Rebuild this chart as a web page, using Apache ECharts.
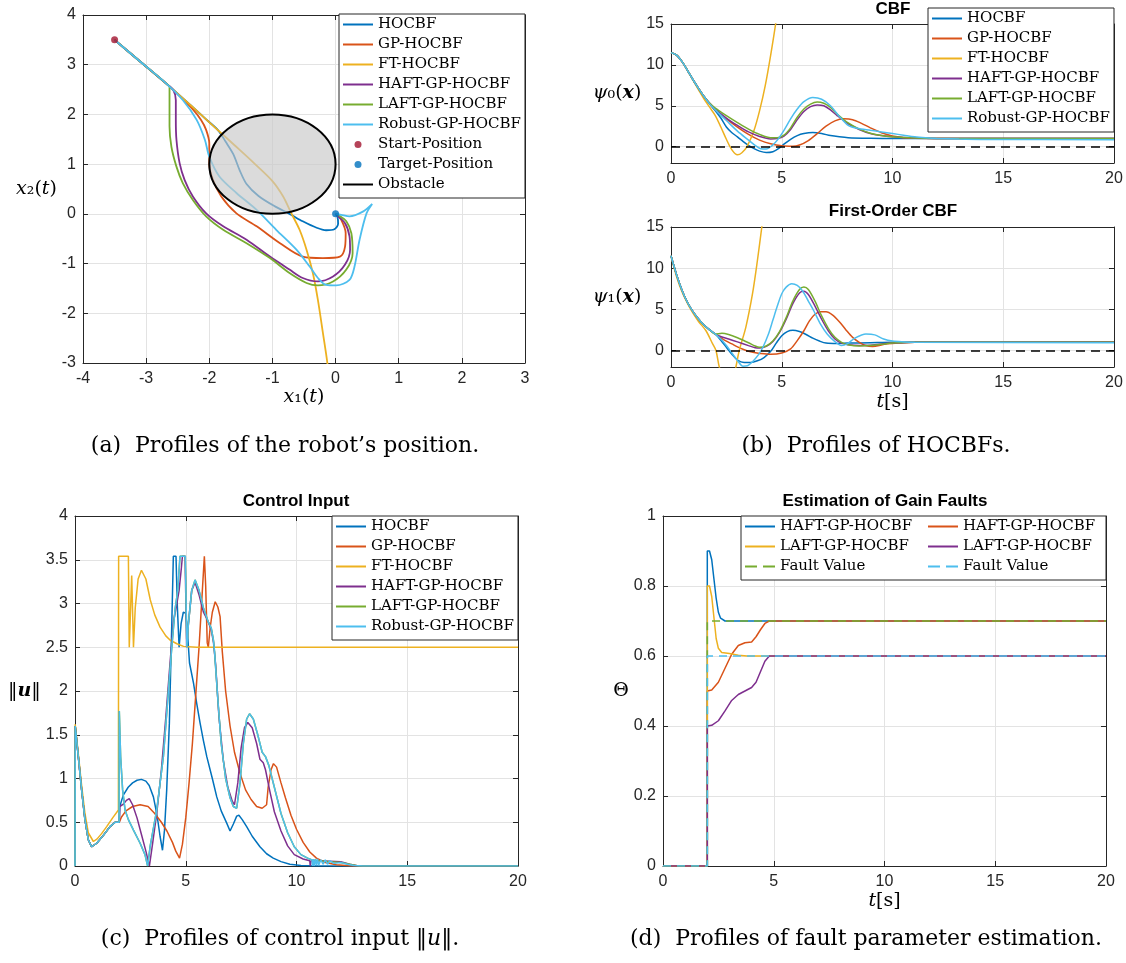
<!DOCTYPE html>
<html><head><meta charset="utf-8">
<script src="https://cdn.jsdelivr.net/npm/echarts@6/dist/echarts.min.js"></script>
<style>html,body{margin:0;padding:0;background:#fff}#c{width:1126px;height:963px}</style>
</head><body><div id="c"></div><script>
// ---------- (a) robot position ----------
const startPosition = [[-3.5, 3.5]];
const targetPosition = [[0, 0]];
const obstacle = [[-1, 1, 1]]; // centre x1, centre x2, radius
const posHOCBF = [[-3.5,3.5],[-3.1,3.07],[-2.68,2.62],[-2.3,2.19],[-2.05,1.9],[-1.86,1.68],[-1.74,1.45],[-1.62,1.2],[-1.52,0.88],[-1.41,0.6],[-1.22,0.36],[-0.96,0.15],[-0.73,0.0],[-0.52,-0.15],[-0.3,-0.28],[-0.15,-0.33],[-0.02,-0.31],[0.04,-0.2],[0.03,-0.06],[0,0]];
const posGP = [[-3.5,3.5],[-3.1,3.07],[-2.68,2.62],[-2.47,2.37],[-2.26,2.1],[-2.13,1.89],[-2.05,1.69],[-2.0,1.42],[-2.0,1.02],[-1.94,0.68],[-1.81,0.35],[-1.57,0.01],[-1.25,-0.25],[-0.88,-0.59],[-0.52,-0.86],[-0.2,-0.89],[0.07,-0.86],[0.15,-0.66],[0.16,-0.39],[0.09,-0.12],[0.01,-0.01]];
const posFT = [[-3.5,3.5],[-3.1,3.07],[-2.68,2.62],[-2.3,2.19],[-2.05,1.9],[-1.86,1.68],[-1.6,1.38],[-1.3,1.03],[-1.0,0.66],[-0.83,0.35],[-0.7,0.01],[-0.57,-0.32],[-0.46,-0.72],[-0.36,-1.19],[-0.28,-1.73],[-0.2,-2.4],[-0.13,-3.0],[-0.09,-3.5]];
const posHAFT = [[-3.5,3.5],[-3.1,3.07],[-2.68,2.62],[-2.57,2.49],[-2.53,2.29],[-2.53,1.89],[-2.52,1.49],[-2.47,1.02],[-2.39,0.68],[-2.26,0.35],[-2.05,0.01],[-1.78,-0.25],[-1.41,-0.52],[-1.04,-0.86],[-0.73,-1.12],[-0.52,-1.29],[-0.28,-1.36],[-0.04,-1.26],[0.15,-1.02],[0.23,-0.72],[0.22,-0.45],[0.15,-0.19],[0.01,-0.02]];
const posLAFT = [[-3.5,3.5],[-3.1,3.07],[-2.68,2.62],[-2.63,2.55],[-2.63,2.29],[-2.63,1.76],[-2.6,1.35],[-2.52,0.95],[-2.42,0.62],[-2.26,0.28],[-2.05,-0.05],[-1.78,-0.32],[-1.41,-0.59],[-1.04,-0.89],[-0.73,-1.19],[-0.46,-1.39],[-0.28,-1.44],[-0.04,-1.36],[0.17,-1.12],[0.27,-0.79],[0.25,-0.39],[0.17,-0.15],[0.04,-0.02],[0,0]];
const posRobust = [[-3.5,3.5],[-3.1,3.07],[-2.68,2.62],[-2.42,2.29],[-2.2,1.89],[-2.07,1.49],[-2.0,1.15],[-1.84,0.75],[-1.57,0.42],[-1.25,0.08],[-0.94,-0.32],[-0.62,-0.72],[-0.41,-1.06],[-0.28,-1.29],[-0.15,-1.43],[0.01,-1.44],[0.22,-1.33],[0.3,-1.06],[0.38,-0.52],[0.49,0.01],[0.58,0.2],[0.44,0.05],[0.22,-0.05],[0.09,-0.02],[0,0]];

// ---------- (b) HOCBFs ----------
const psi0HOCBF = [[0,11.5],[0.25,11.2],[0.5,10.4],[0.75,9.3],[1,8.15],[1.25,7.1],[1.5,6.1],[1.75,5.2],[2,4.4],[2.25,3.5],[2.5,2.4],[2.75,1.7],[3,1.2],[3.25,0.65],[3.5,0.15],[3.75,-0.25],[4,-0.55],[4.3,-0.72],[4.6,-0.62],[4.85,-0.25],[5.1,0.3],[5.4,0.9],[5.7,1.35],[6,1.6],[6.4,1.72],[6.8,1.6],[7.2,1.35],[7.6,1.2],[8,1.1],[9,1.03],[10,1.0],[20,1.0]];
const psi0GP = [[0,11.5],[0.25,11.2],[0.5,10.4],[0.75,9.3],[1,8.15],[1.25,7.1],[1.5,6.1],[1.75,5.2],[2,4.5],[2.5,3.4],[3,2.4],[3.5,1.5],[4,0.8],[4.5,0.35],[5,0.1],[5.5,0.05],[5.8,0.2],[6.2,0.75],[6.6,1.6],[7,2.5],[7.4,3.15],[7.8,3.4],[8.2,3.3],[8.6,2.85],[9,2.3],[9.5,1.7],[10,1.3],[10.5,1.1],[11,1.02],[12,1.0],[20,1.0]];
const psi0FT = [[0,11.5],[0.25,11.2],[0.5,10.4],[0.75,9.3],[1,8.1],[1.25,6.9],[1.5,5.8],[1.75,4.8],[2,3.8],[2.25,2.4],[2.5,0.9],[2.75,-0.4],[3,-1.0],[3.2,-0.75],[3.43,0],[3.75,2.0],[4,4.4],[4.25,7.4],[4.5,11.2],[4.75,15.5],[5,20.6]];
const psi0HAFT = [[0,11.5],[0.25,11.2],[0.5,10.4],[0.75,9.3],[1,8.15],[1.25,7.1],[1.5,6.1],[1.75,5.3],[2,4.6],[2.5,3.5],[3,2.6],[3.5,1.8],[4,1.25],[4.5,0.95],[4.8,1.0],[5.1,1.3],[5.4,2.1],[5.7,3.3],[6,4.3],[6.3,4.9],[6.6,5.1],[6.9,5.0],[7.2,4.5],[7.5,3.8],[8,2.8],[8.5,2.1],[9,1.6],[9.5,1.35],[10,1.2],[11,1.05],[12,1.0],[20,1.0]];
const psi0LAFT = [[0,11.5],[0.25,11.2],[0.5,10.4],[0.75,9.3],[1,8.15],[1.25,7.1],[1.5,6.1],[1.75,5.3],[2,4.7],[2.5,3.8],[3,2.95],[3.5,2.15],[4,1.5],[4.5,1.1],[4.8,1.1],[5.1,1.4],[5.4,2.3],[5.7,3.6],[6,4.6],[6.3,5.2],[6.6,5.45],[6.9,5.3],[7.2,4.8],[7.5,4.0],[8,2.9],[8.5,2.15],[9,1.65],[9.5,1.35],[10,1.2],[11,1.05],[12,1.0],[20,1.0]];
const psi0Robust = [[0,11.5],[0.25,11.2],[0.5,10.4],[0.75,9.3],[1,8.15],[1.25,7.1],[1.5,6.1],[1.75,5.2],[2,4.5],[2.5,3.2],[3,1.9],[3.5,0.8],[3.8,0.15],[4.05,-0.25],[4.3,-0.3],[4.55,0.1],[4.8,0.8],[5.1,2.0],[5.4,3.4],[5.7,4.6],[6,5.5],[6.4,6.0],[6.8,5.8],[7.2,5.0],[7.6,3.7],[8,2.6],[8.4,2.25],[9,2.0],[9.5,1.8],[10,1.6],[10.5,1.4],[11,1.2],[11.5,1.08],[12,1.0],[13,0.92],[14,0.88],[20,0.85]];

const psi1HOCBF = [[0,11.5],[0.25,9.2],[0.5,7.3],[0.75,5.8],[1,4.7],[1.25,3.8],[1.5,3.06],[1.75,2.5],[2,2.0],[2.25,1.25],[2.5,0.4],[2.75,-0.45],[3,-1.15],[3.3,-1.45],[3.6,-1.45],[3.9,-1.25],[4.2,-0.85],[4.5,-0.1],[4.75,0.9],[5,1.8],[5.25,2.3],[5.5,2.45],[5.8,2.3],[6.1,1.95],[6.4,1.5],[6.7,1.15],[7,0.9],[7.5,0.85],[8,0.9],[9,0.95],[10,1.0],[20,1.0]];
const psi1GP = [[0,11.5],[0.25,9.2],[0.5,7.3],[0.75,5.8],[1,4.7],[1.25,3.8],[1.5,3.06],[1.75,2.5],[2,2.0],[2.25,1.55],[2.5,1.15],[2.75,0.8],[3,0.45],[3.25,0.15],[3.5,-0.1],[3.75,-0.25],[4,-0.35],[4.5,-0.45],[5,-0.3],[5.4,0.2],[5.7,1.2],[6.0,2.4],[6.25,3.6],[6.5,4.4],[6.75,4.7],[7.0,4.7],[7.3,4.3],[7.6,3.5],[7.9,2.5],[8.2,1.6],[8.5,1.0],[8.8,0.6],[9.1,0.5],[9.4,0.6],[9.7,0.8],[10.2,0.9],[11,1.0],[20,1.0]];
const psi1FT = [[0,11.5],[0.25,9.0],[0.5,7.1],[0.75,5.7],[1,4.5],[1.25,3.5],[1.58,2.4],[1.88,0.8],[2.03,0.0],[2.18,-2.0],[2.4,-3.6],[2.6,-4.2],[2.8,-3.4],[2.93,-2.0],[3.08,0],[3.38,2.85],[3.68,6.9],[3.9,10.9],[4.1,15],[4.3,19]];
const psi1HAFT = [[0,11.5],[0.25,9.2],[0.5,7.3],[0.75,5.8],[1,4.7],[1.25,3.8],[1.5,3.06],[1.75,2.5],[2,2.0],[2.3,1.65],[2.6,1.4],[3,1.05],[3.5,0.6],[3.8,0.35],[4.0,0.3],[4.3,0.5],[4.6,1.1],[4.9,2.2],[5.2,3.8],[5.5,5.7],[5.8,7.0],[6.0,7.2],[6.2,6.8],[6.5,5.4],[6.8,3.8],[7.1,2.4],[7.4,1.4],[7.7,0.9],[8,0.7],[8.5,0.6],[9,0.65],[9.5,0.8],[10,0.9],[11,1.0],[20,1.0]];
const psi1LAFT = [[0,11.5],[0.25,9.2],[0.5,7.3],[0.75,5.8],[1,4.7],[1.25,3.8],[1.5,3.06],[1.75,2.5],[2,2.0],[2.3,2.1],[2.6,1.95],[3,1.55],[3.5,0.95],[3.8,0.55],[4.0,0.4],[4.3,0.55],[4.6,1.15],[4.9,2.3],[5.2,4.0],[5.5,6.0],[5.8,7.4],[6.0,7.7],[6.2,7.4],[6.5,6.0],[6.8,4.2],[7.1,2.7],[7.4,1.6],[7.7,1.0],[8,0.7],[8.5,0.55],[9,0.6],[9.5,0.75],[10,0.9],[11,1.0],[20,1.0]];
const psi1Robust = [[0,11.5],[0.25,9.2],[0.5,7.3],[0.75,5.8],[1,4.7],[1.25,3.8],[1.5,3.06],[1.75,2.5],[2,2.0],[2.25,1.4],[2.5,0.6],[2.75,-0.3],[3,-1.2],[3.25,-1.9],[3.45,-1.85],[3.7,-1.3],[3.95,-0.5],[4.15,0.4],[4.4,2.0],[4.6,3.7],[4.8,5.4],[5.0,6.9],[5.2,7.7],[5.45,8.1],[5.7,7.9],[5.95,7.2],[6.2,6.0],[6.45,4.8],[6.75,3.2],[7.05,2.0],[7.35,1.2],[7.7,0.6],[7.95,0.8],[8.3,1.5],[8.8,2.0],[9.2,1.9],[9.6,1.4],[10,1.15],[10.5,1.05],[11,1.0],[20,0.95]];

// ---------- (c) control input ----------
const uHOCBF = [[0,0],[0.01,1.6],[0.15,1.25],[0.3,0.87],[0.45,0.53],[0.6,0.3],[0.75,0.22],[0.98,0.26],[1.28,0.35],[1.58,0.45],[1.81,0.5],[2.0,0.5],[2.02,0.68],[2.18,0.81],[2.4,0.9],[2.6,0.95],[2.8,0.98],[3.0,0.99],[3.2,0.97],[3.35,0.92],[3.54,0.79],[3.65,0.65],[3.75,0.5],[3.84,0.34],[3.95,0.18],[4.04,0.41],[4.14,0.87],[4.26,1.63],[4.37,2.77],[4.44,3.54],[4.56,3.54],[4.62,2.97],[4.7,2.5],[4.79,2.77],[4.89,2.9],[5.0,2.89],[5.07,2.7],[5.17,2.32],[5.35,2.09],[5.5,1.85],[5.65,1.63],[5.8,1.43],[5.95,1.25],[6.2,1.0],[6.4,0.79],[6.6,0.63],[6.85,0.49],[7.0,0.4],[7.05,0.38],[7.15,0.48],[7.3,0.57],[7.4,0.58],[7.55,0.53],[7.75,0.45],[8.0,0.34],[8.35,0.22],[8.65,0.14],[8.95,0.09],[9.3,0.05],[9.7,0.02],[10.2,0.007],[11,0],[20,0]];
const uGP = [[0,0],[0.01,1.6],[0.15,1.25],[0.3,0.87],[0.45,0.53],[0.6,0.3],[0.75,0.22],[0.98,0.26],[1.28,0.35],[1.58,0.45],[1.81,0.5],[2.0,0.5],[2.1,0.56],[2.3,0.63],[2.6,0.68],[2.94,0.7],[3.3,0.68],[3.6,0.6],[3.9,0.5],[4.15,0.4],[4.4,0.27],[4.55,0.17],[4.72,0.09],[4.85,0.25],[5.0,0.55],[5.15,0.95],[5.3,1.4],[5.45,1.95],[5.6,2.5],[5.75,3.15],[5.84,3.54],[5.9,3.2],[5.97,2.55],[6.02,2.5],[6.1,2.72],[6.2,2.9],[6.33,3.02],[6.45,2.96],[6.55,2.85],[6.65,2.45],[6.8,2.0],[7.0,1.6],[7.2,1.3],[7.45,1.06],[7.7,0.87],[7.95,0.76],[8.2,0.68],[8.45,0.66],[8.65,0.7],[8.72,0.9],[8.85,1.1],[8.96,1.17],[9.1,1.13],[9.3,0.95],[9.5,0.78],[9.75,0.58],[10.0,0.42],[10.3,0.27],[10.6,0.16],[10.9,0.09],[11.3,0.04],[11.8,0.015],[12.5,0],[20,0]];
const uFT = [[0,0],[0.01,1.62],[0.15,1.28],[0.3,0.92],[0.45,0.6],[0.6,0.38],[0.83,0.28],[1.0,0.31],[1.2,0.37],[1.43,0.45],[1.7,0.55],[1.96,0.64],[1.97,3.54],[2.41,3.54],[2.45,2.5],[2.56,3.32],[2.58,3.32],[2.64,2.5],[2.72,2.95],[2.85,3.28],[3.0,3.38],[3.2,3.28],[3.4,3.04],[3.6,2.87],[3.84,2.73],[4.1,2.63],[4.3,2.58],[4.6,2.54],[4.9,2.51],[5.5,2.5],[20,2.5]];
const uHAFT = [[0,0],[0.01,1.6],[0.15,1.25],[0.3,0.87],[0.45,0.53],[0.6,0.3],[0.75,0.22],[0.98,0.26],[1.28,0.35],[1.58,0.45],[1.81,0.5],[2.0,0.5],[2.02,0.68],[2.2,0.71],[2.32,0.75],[2.45,0.77],[2.6,0.7],[2.8,0.55],[3.0,0.36],[3.2,0.17],[3.36,0],[3.5,0.25],[3.7,0.62],[3.9,1.1],[4.1,1.7],[4.3,2.35],[4.45,2.8],[4.6,3.0],[4.7,3.15],[4.8,3.4],[4.85,3.54],[4.97,3.54],[5.04,2.5],[5.12,2.77],[5.27,3.15],[5.42,3.24],[5.6,3.1],[5.8,2.9],[6.0,2.8],[6.15,2.7],[6.25,2.56],[6.35,2.3],[6.5,1.7],[6.7,1.2],[6.9,0.9],[7.1,0.74],[7.2,0.7],[7.35,0.95],[7.5,1.35],[7.65,1.58],[7.8,1.64],[8.0,1.58],[8.2,1.4],[8.35,1.22],[8.5,1.18],[8.6,1.1],[8.8,0.85],[9.0,0.62],[9.3,0.4],[9.6,0.23],[9.9,0.13],[10.3,0.08],[10.6,0.06],[10.62,0],[10.66,0.06],[11,0.06],[11.5,0.055],[12,0.05],[12.4,0.02],[12.8,0],[20,0]];
const uLAFT = [[0,0],[0.01,1.6],[0.15,1.25],[0.3,0.87],[0.45,0.53],[0.6,0.3],[0.75,0.22],[0.98,0.26],[1.28,0.35],[1.58,0.45],[1.81,0.5],[1.99,0.5],[2.0,1.77],[2.06,1.25],[2.15,0.87],[2.26,0.64],[2.41,0.53],[2.64,0.41],[2.94,0.26],[3.16,0.13],[3.28,0],[3.39,0.22],[3.69,0.64],[3.99,1.25],[4.22,2.01],[4.37,2.5],[4.52,2.94],[4.64,3.15],[4.74,3.54],[4.98,3.54],[5.05,2.5],[5.12,2.77],[5.27,3.15],[5.42,3.27],[5.6,3.15],[5.8,2.95],[6.0,2.8],[6.15,2.72],[6.25,2.58],[6.3,2.45],[6.45,1.9],[6.6,1.4],[6.8,1.0],[7.0,0.78],[7.15,0.68],[7.3,0.66],[7.45,0.95],[7.6,1.4],[7.75,1.68],[7.88,1.74],[8.05,1.68],[8.25,1.5],[8.45,1.3],[8.6,1.25],[8.75,1.15],[9.0,0.9],[9.3,0.6],[9.6,0.38],[9.9,0.22],[10.2,0.13],[10.5,0.09],[10.7,0.07],[11.0,0.06],[11.5,0.05],[12.0,0.04],[12.4,0.02],[12.8,0],[20,0]];
const uRobust = [[0,0],[0.01,1.6],[0.15,1.25],[0.3,0.87],[0.45,0.53],[0.6,0.3],[0.75,0.22],[0.98,0.26],[1.28,0.35],[1.58,0.45],[1.81,0.5],[1.99,0.5],[2.0,1.77],[2.06,1.25],[2.15,0.87],[2.26,0.64],[2.41,0.53],[2.64,0.41],[2.94,0.26],[3.16,0.13],[3.28,0],[3.39,0.22],[3.69,0.64],[3.99,1.25],[4.22,2.01],[4.37,2.5],[4.52,2.94],[4.64,3.15],[4.74,3.54],[4.98,3.54],[5.05,2.5],[5.12,2.77],[5.27,3.15],[5.42,3.27],[5.6,3.15],[5.8,2.95],[6.0,2.8],[6.15,2.72],[6.25,2.58],[6.3,2.45],[6.45,1.9],[6.6,1.4],[6.8,1.0],[7.0,0.78],[7.15,0.68],[7.3,0.66],[7.45,0.95],[7.6,1.4],[7.75,1.68],[7.88,1.74],[8.05,1.68],[8.25,1.5],[8.45,1.3],[8.6,1.25],[8.75,1.15],[9.0,0.9],[9.3,0.6],[9.6,0.38],[9.9,0.22],[10.2,0.13],[10.5,0.09],[10.7,0.07],[10.72,0],[10.76,0.08],[10.8,0],[10.85,0.08],[10.9,0.01],[10.95,0.08],[11.0,0.01],[11.1,0.07],[11.2,0.02],[11.3,0.07],[11.4,0.02],[11.5,0.06],[11.7,0.03],[12.0,0.04],[12.3,0.02],[12.6,0.005],[13,0],[20,0]];

// ---------- (d) fault estimation ----------
const thetaHAFT1 = [[0,0],[2,0],[2,0.9],[2.1,0.9],[2.2,0.875],[2.3,0.82],[2.4,0.765],[2.5,0.725],[2.6,0.708],[2.8,0.7],[20,0.7]];
const thetaHAFT2 = [[0,0],[2,0],[2,0.5],[2.2,0.503],[2.5,0.525],[2.8,0.565],[3.1,0.605],[3.4,0.63],[3.7,0.638],[4.0,0.64],[4.2,0.655],[4.4,0.675],[4.6,0.693],[4.8,0.7],[20,0.7]];
const thetaLAFT1 = [[0,0],[2,0],[2,0.8],[2.1,0.8],[2.2,0.77],[2.3,0.71],[2.4,0.65],[2.5,0.622],[2.65,0.61],[3.0,0.607],[3.4,0.602],[3.8,0.6],[20,0.6]];
const thetaLAFT2 = [[0,0],[2,0],[2,0.4],[2.2,0.402],[2.5,0.415],[2.8,0.443],[3.1,0.473],[3.4,0.49],[3.7,0.5],[4.0,0.51],[4.2,0.525],[4.4,0.555],[4.6,0.585],[4.8,0.6],[20,0.6]];
const faultValue1 = [[0,0],[2,0],[2,0.7],[20,0.7]];
const faultValue2 = [[0,0],[2,0],[2,0.6],[20,0.6]];

// tick labels for the HOCBF panels
const psiTicks = [0, 5, 10, 15];

// ---------- styling ----------
const AX = '#262626', SPLIT = '#E3E3E3';
const SANS = 'Liberation Sans', SERIF = 'DejaVu Serif';
const C = {blue:'#0072BD', red:'#D95319', yellow:'#EDB120', purple:'#7E2F8E', green:'#77AC30', cyan:'#4DBEEE', dark:'#A2142F'};
const lineIcon = 'path://M0,0H30V2H0Z';
const dashIcon = 'path://M0,0H12V2H0ZM18,0H30V2H18Z';
const NF = 19;
const rich = {
  i:{fontFamily:SERIF,fontStyle:'italic',fontSize:NF,color:'#000'},
  n:{fontFamily:SERIF,fontSize:NF,color:'#000'},
  b:{fontFamily:SERIF,fontStyle:'italic',fontWeight:'bold',fontSize:NF,color:'#000'}
};

const grids = [
  {left:83, top:15, width:442, height:348},
  {left:671, top:24, width:443, height:139},
  {left:671, top:227, width:443, height:140},
  {left:75, top:516, width:443, height:350},
  {left:663, top:516, width:443, height:350}
].map(g => Object.assign(g, {outerBoundsMode:'none', containLabel:false}));

function axisPair(dim, g, cfg) {
  const first = dim === 'x' ? 'bottom' : 'left';
  const second = dim === 'x' ? 'top' : 'right';
  const tick = {show:true, inside:true, length:5, lineStyle:{color:AX, width:1}};
  if (cfg.custom) tick.customValues = cfg.custom;
  const common = {type:'value', gridIndex:g, min:cfg.min, max:cfg.max,
    axisLine:{show:true, onZero:false, lineStyle:{color:AX, width:1}}, axisTick:tick};
  if (cfg.interval != null) common.interval = cfg.interval;
  const label = {color:AX, fontFamily:SANS, fontSize:16, margin:dim === 'x' ? 8 : 7};
  if (cfg.custom) label.customValues = cfg.custom;
  const main = Object.assign({}, common, {position:first, axisLabel:label,
    splitLine:{show:true, lineStyle:{color:SPLIT, width:1}},
    name:cfg.name || '', nameLocation:'middle', nameGap:cfg.nameGap || 0, nameRotate:0,
    nameTextStyle:{rich:rich}});
  const mirror = Object.assign({}, common, {position:second, axisLabel:{show:false}, splitLine:{show:false}});
  return [main, mirror];
}

const xAxis = [].concat(
  axisPair('x',0,{min:-4,max:3,interval:1,name:'{i|x}{n|₁(}{i|t}{n|)}',nameGap:25}),
  axisPair('x',1,{min:0,max:20,interval:5}),
  axisPair('x',2,{min:0,max:20,interval:5,name:'{i|t}{n|[s]}',nameGap:26}),
  axisPair('x',3,{min:0,max:20,interval:5}),
  axisPair('x',4,{min:0,max:20,interval:5,name:'{i|t}{n|[s]}',nameGap:26})
);
const yAxis = [].concat(
  axisPair('y',0,{min:-3,max:4,interval:1,name:'{i|x}{n|₂(}{i|t}{n|)}',nameGap:25}),
  axisPair('y',1,{min:-2,max:15,custom:psiTicks,name:'{i|ψ}{n|₀(}{b|x}{n|)}',nameGap:26}),
  axisPair('y',2,{min:-2,max:15,custom:psiTicks,name:'{i|ψ}{n|₁(}{b|x}{n|)}',nameGap:26}),
  axisPair('y',3,{min:0,max:4,interval:0.5,name:'{n|‖}{b|u}{n|‖}',nameGap:34}),
  axisPair('y',4,{min:0,max:1,interval:0.2,name:'{n|Θ}',nameGap:33})
);

function line(name, data, g, color, opts) {
  opts = opts || {};
  return {type:'line', name:name, data:data, xAxisIndex:2*g, yAxisIndex:2*g,
    symbol:'none', showSymbol:false, smooth:opts.smooth || false, clip:true,
    lineStyle:{color:color, width:opts.width || 1.5, type:opts.type || 'solid'},
    itemStyle:{color:color}, emphasis:{disabled:true}, z:opts.z || 2, markLine:opts.markLine};
}
const zeroMark = {silent:true, symbol:'none', label:{show:false}, animation:false,
  lineStyle:{color:'#000', type:[9,6], width:1.6}, data:[{yAxis:0}]};

const series = [
  line('HOCBF', posHOCBF, 0, C.blue, {width:1.8, smooth:0.3}),
  line('GP-HOCBF', posGP, 0, C.red, {width:1.8, smooth:0.3}),
  line('FT-HOCBF', posFT, 0, C.yellow, {width:1.8, smooth:0.3}),
  line('HAFT-GP-HOCBF', posHAFT, 0, C.purple, {width:1.8, smooth:0.3}),
  line('LAFT-GP-HOCBF', posLAFT, 0, C.green, {width:1.8, smooth:0.3}),
  line('Robust-GP-HOCBF', posRobust, 0, C.cyan, {width:1.8, smooth:0.3}),
  {type:'custom', name:'Obstacle', xAxisIndex:0, yAxisIndex:0, data:obstacle, itemStyle:{color:'#000'}, z:3,
    renderItem:function(params, api){
      const cx = api.value(0), cy = api.value(1), r = api.value(2);
      const c = api.coord([cx, cy]);
      const px = api.coord([cx + r, cy]);
      const py = api.coord([cx, cy + r]);
      return {type:'ellipse', shape:{cx:c[0], cy:c[1], rx:Math.abs(px[0]-c[0]), ry:Math.abs(py[1]-c[1])},
        style:{fill:'rgba(200,200,200,0.66)', stroke:'#000', lineWidth:2}};
    }},
  {type:'scatter', name:'Start-Position', data:startPosition, xAxisIndex:0, yAxisIndex:0, symbolSize:7, z:4, itemStyle:{color:C.dark}},
  {type:'scatter', name:'Target-Position', data:targetPosition, xAxisIndex:0, yAxisIndex:0, symbolSize:7, z:4, itemStyle:{color:C.blue}},

  line('HOCBF', psi0HOCBF, 1, C.blue, {smooth:0.3}),
  line('GP-HOCBF', psi0GP, 1, C.red, {smooth:0.3}),
  line('FT-HOCBF', psi0FT, 1, C.yellow, {smooth:0.3}),
  line('HAFT-GP-HOCBF', psi0HAFT, 1, C.purple, {smooth:0.3}),
  line('LAFT-GP-HOCBF', psi0LAFT, 1, C.green, {smooth:0.3}),
  line('Robust-GP-HOCBF', psi0Robust, 1, C.cyan, {smooth:0.3, markLine:zeroMark}),

  line('HOCBF', psi1HOCBF, 2, C.blue, {smooth:0.3}),
  line('GP-HOCBF', psi1GP, 2, C.red, {smooth:0.3}),
  line('FT-HOCBF', psi1FT, 2, C.yellow, {smooth:0.3}),
  line('HAFT-GP-HOCBF', psi1HAFT, 2, C.purple, {smooth:0.3}),
  line('LAFT-GP-HOCBF', psi1LAFT, 2, C.green, {smooth:0.3}),
  line('Robust-GP-HOCBF', psi1Robust, 2, C.cyan, {smooth:0.3, markLine:zeroMark}),

  line('HOCBF', uHOCBF, 3, C.blue),
  line('GP-HOCBF', uGP, 3, C.red),
  line('FT-HOCBF', uFT, 3, C.yellow),
  line('HAFT-GP-HOCBF', uHAFT, 3, C.purple),
  line('LAFT-GP-HOCBF', uLAFT, 3, C.green),
  line('Robust-GP-HOCBF', uRobust, 3, C.cyan),

  line('HAFT-GP-HOCBF#1', thetaHAFT1, 4, C.blue),
  line('HAFT-GP-HOCBF#2', thetaHAFT2, 4, C.red),
  line('LAFT-GP-HOCBF#1', thetaLAFT1, 4, C.yellow),
  line('LAFT-GP-HOCBF#2', thetaLAFT2, 4, C.purple),
  line('Fault Value#1', faultValue1, 4, C.green, {type:[8,6], width:1.6}),
  line('Fault Value#2', faultValue2, 4, C.cyan, {type:[8,6], width:1.6})
];

const methodNames = ['HOCBF','GP-HOCBF','FT-HOCBF','HAFT-GP-HOCBF','LAFT-GP-HOCBF','Robust-GP-HOCBF'];
function legend(left, top, items, boxed) {
  return {left:left, top:top, orient:'vertical', itemWidth:30, itemHeight:7, itemGap:5,
    padding:[3,4,6,4], borderColor:boxed ? AX : 'transparent', borderWidth:boxed ? 1 : 0,
    backgroundColor:boxed ? '#fff' : 'transparent', selectedMode:false, z:5,
    textStyle:{fontFamily:SERIF, fontSize:15, color:'#000', lineHeight:15},
    itemStyle:{borderWidth:0},
    formatter:function(n){ return n.split('#')[0]; },
    data:items.map(it => ({name:it[0], icon:it[1]}))};
}
const legends = [
  legend(339, 14, methodNames.map(n => [n, lineIcon]).concat([['Start-Position','circle'],['Target-Position','circle'],['Obstacle', lineIcon]]), true),
  legend(928, 8, methodNames.map(n => [n, lineIcon]), true),
  legend(332, 516, methodNames.map(n => [n, lineIcon]), true),
  legend(741, 516, [['HAFT-GP-HOCBF#1', lineIcon],['LAFT-GP-HOCBF#1', lineIcon],['Fault Value#1', dashIcon]], false),
  legend(924, 516, [['HAFT-GP-HOCBF#2', lineIcon],['LAFT-GP-HOCBF#2', lineIcon],['Fault Value#2', dashIcon]], false)
];

function title(text, x, y, font) {
  return {text:text, left:x, top:y, textAlign:'center', padding:0, textStyle:font};
}
const headFont = {fontFamily:SANS, fontWeight:'bold', fontSize:17, color:'#000'};
const capFont = {fontFamily:SERIF, fontWeight:'normal', fontSize:22, color:'#000',
  rich:{i:{fontFamily:SERIF, fontStyle:'italic', fontSize:22, color:'#000'}}};
const titles = [
  title('CBF', 893, 1, headFont),
  title('First-Order CBF', 893, 203, headFont),
  title('Control Input', 296, 493, headFont),
  title('Estimation of Gain Faults', 885, 493, headFont),
  title('(a)  Profiles of the robot’s position.', 285, 435, capFont),
  title('(b)  Profiles of HOCBFs.', 876, 435, capFont),
  title('(c)  Profiles of control input ‖{i|u}‖.', 280, 928, capFont),
  title('(d)  Profiles of fault parameter estimation.', 866, 928, capFont)
];

const chart = echarts.init(document.getElementById('c'), null, {renderer:'canvas'});
chart.setOption({
  animation:false,
  backgroundColor:'#fff',
  title:titles,
  grid:grids,
  xAxis:xAxis,
  yAxis:yAxis,
  legend:legends,
  graphic:[{type:'rect', z:4, shape:{x:741, y:516, width:365, height:64},
    style:{fill:'#fff', stroke:AX, lineWidth:1}}],
  series:series
});
</script></body></html>
